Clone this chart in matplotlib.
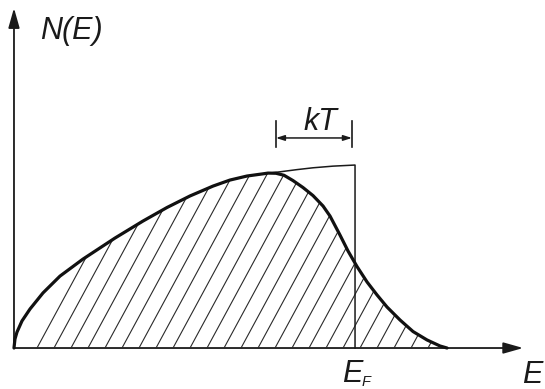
import numpy as np
import matplotlib
matplotlib.use("Agg")
import matplotlib.pyplot as plt
from matplotlib.patches import Polygon, FancyArrowPatch

# ---- data (E in units of E_F, N in units of N(E_F)) ----
dos_E = [0.0, 0.0029, 0.0088, 0.0235, 0.0469, 0.0850, 0.1349, 0.2023, 0.2962,
         0.3783, 0.4487, 0.5161, 0.5836, 0.6334, 0.6833, 0.7302, 0.7801,
         0.8299, 0.8768, 0.9355, 1.0]
dos_N = [0.0, 0.049, 0.087, 0.148, 0.213, 0.301, 0.393, 0.486, 0.601,
         0.694, 0.768, 0.831, 0.885, 0.918, 0.940, 0.952, 0.963,
         0.975, 0.985, 0.994, 1.0]

tail_E = [0.7449, 0.7683, 0.7918, 0.8182, 0.8475, 0.8768, 0.9062, 0.9267,
          0.9560, 0.9795, 1.0059, 1.0352, 1.0645, 1.0938, 1.1320,
          1.1701, 1.2111, 1.2493, 1.2698]
tail_N = [0.956, 0.955, 0.944, 0.915, 0.877, 0.833, 0.776, 0.721,
          0.617, 0.530, 0.445, 0.361, 0.290, 0.224, 0.153,
          0.090, 0.044, 0.011, 0.0]

E_F = 1.0
kT_width = 0.232
labels = {"y": "N(E)", "x": "E", "ef": "E", "ef_sub": "F", "kt": "kT"}

# ---- figure ----
fig = plt.figure(figsize=(5.45, 3.89), dpi=100)
ax = fig.add_axes([0, 0, 1, 1])
ax.set_xlim(-0.041, 1.557)
ax.set_ylim(-0.224, 1.902)
ax.axis("off")

font = dict(family="Liberation Sans", style="italic", color="#1a1a1a")

# thick (occupied) curve: DOS up to departure, then Fermi tail
cut = tail_E[0]
occ_E = [e for e in dos_E if e < cut] + tail_E
occ_N = [n for e, n in zip(dos_E, dos_N) if e < cut] + tail_N

# hatched region under the occupied curve
poly = Polygon(list(zip(occ_E, occ_N)) + [(occ_E[-1], 0), (0, 0)],
               closed=True, facecolor="none", edgecolor="none")
ax.add_patch(poly)
sx = 341.0   # px per E unit
sy = 183.0   # px per N unit
step = 17.0 / sx
slope = (85.0 / 46.0) * sx / sy
x0 = 23.0 / sx
while x0 < occ_E[-1]:
    ln, = ax.plot([x0, x0 + 2.0 / slope], [0, 2.0], color="#2a2a2a", lw=0.8,
                  solid_capstyle="butt")
    ln.set_clip_path(poly)
    x0 += step

# thin DOS curve with vertical drop at E_F
ax.plot(dos_E + [E_F], dos_N + [0.0], color="#1a1a1a", lw=1.1,
        solid_joinstyle="round")
# thick occupied curve
ax.plot(occ_E, occ_N, color="#111111", lw=2.3, solid_capstyle="round",
        solid_joinstyle="round")

# axes with arrows
arrow_kw = dict(arrowstyle="-|>,head_length=12,head_width=3.4", mutation_scale=1,
                color="#1a1a1a", lw=1.3, shrinkA=0, shrinkB=0)
ax.add_patch(FancyArrowPatch((0, 0), (1.493, 0), **arrow_kw))
ax.add_patch(FancyArrowPatch((0, 0), (0, 1.858), **arrow_kw))

# kT bracket
yb = 1.148
for xb in (E_F - kT_width, E_F - 0.009):
    ax.plot([xb, xb], [1.098, 1.240], color="#1a1a1a", lw=1.2)
ax.add_patch(FancyArrowPatch((E_F - kT_width, yb), (E_F - 0.009, yb),
                             arrowstyle="<|-|>,head_length=5,head_width=1.6",
                             mutation_scale=1, color="#1a1a1a", lw=1.1,
                             shrinkA=0, shrinkB=0))

# labels
ax.text(0.076, 1.689, labels["y"], fontsize=22, ha="left", va="baseline", **font)
ax.text(0.900, 1.191, labels["kt"], fontsize=22, ha="center", va="baseline", **font)
ax.text(0.962, -0.186, labels["ef"], fontsize=22, ha="left", va="baseline", **font)
ax.text(1.018, -0.208, labels["ef_sub"], fontsize=10.5, ha="left", va="baseline", **font)
ax.text(1.490, -0.192, labels["x"], fontsize=22, ha="left", va="baseline", **font)

fig.savefig("out.png", dpi=100, facecolor="white")
